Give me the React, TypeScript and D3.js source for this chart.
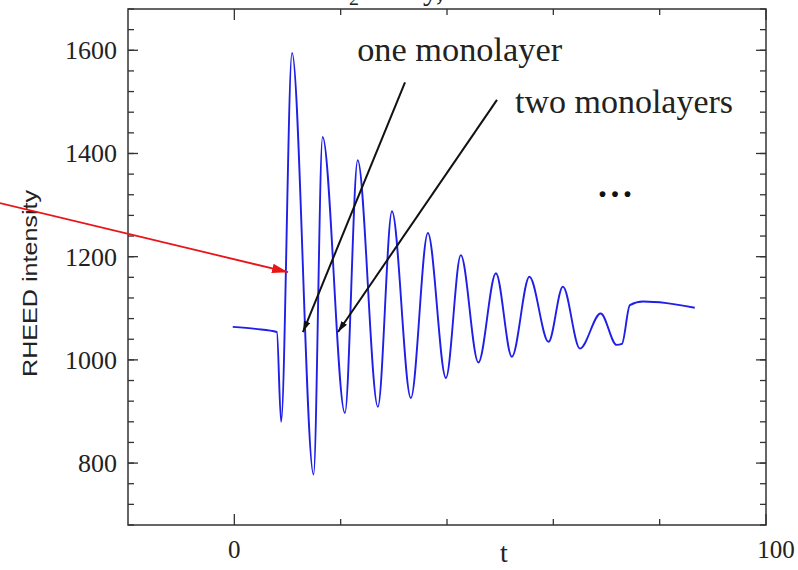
import React from "react";
import * as d3 from "d3";

// RHEED trace (peaks, troughs and plateau points)
const tValues = [-0.3, 4, 8.0, 8.8, 10.85, 14.9, 16.6, 20.8, 23.2, 27.0, 29.65, 33.2, 36.4, 39.8, 42.6, 45.9, 49.2, 52.2, 55.5, 59.1, 61.8, 65.0, 68.9, 71.9, 72.9, 74.4, 76.9, 81.3, 86.6];
const intensity = [1064, 1060, 1054, 880, 1595, 778, 1432, 897, 1387, 909, 1288, 926, 1246, 965, 1203, 995, 1168, 1006, 1161, 1035, 1142, 1022, 1090, 1029, 1031, 1106, 1113, 1110, 1101];

const yMajor = [800, 1000, 1200, 1400, 1600];
const yMinor = d3.range(680, 1681, 40);
const xMajor = [0, 100];
const xMinor = [20, 40, 60, 80];

// annotations, in data coordinates: [t0, v0, t1, v1]
const blackArrows = [
  [32.1, 1538, 12.9, 1054],
  [49.4, 1504, 19.5, 1054],
];
const redArrow = [-44.1, 1304, 10.1, 1170];
const labels = [
  { text: "one monolayer", t: 23.1, v: 1579, len: 205 },
  { text: "two monolayers", t: 52.8, v: 1478, len: 218 },
];

const W = 798, H = 570;
const left = 128, right = 766, top = 9, bottom = 525;

export default function App() {
  const x = d3.scaleLinear().domain([-20, 100]).range([left, right]);
  const y = d3.scaleLinear().domain([680, 1680]).range([bottom, top]);

  const pts = tValues.map((t, i) => [t, intensity[i]] as [number, number]);
  const line = d3.line<[number, number]>()
    .x(d => x(d[0]))
    .y(d => y(d[1]))
    .curve(d3.curveMonotoneX);

  const axisColor = "#333";
  const serif = "'Liberation Serif', 'Times New Roman', serif";

  return (
    <svg width={W} height={H} style={{ position: "absolute", left: 0, top: 0, background: "#fff" }}>
      <defs>
        <marker id="headBlack" viewBox="0 0 10 6" refX="10" refY="3" markerWidth="11" markerHeight="7" markerUnits="userSpaceOnUse" orient="auto">
          <path d="M0,0 L10,3 L0,6 Z" fill="#111" />
        </marker>
        <marker id="headRed" viewBox="0 0 10 6" refX="10" refY="3" markerWidth="16" markerHeight="10" markerUnits="userSpaceOnUse" orient="auto">
          <path d="M0,0 L10,3 L0,6 Z" fill="#e8161a" />
        </marker>
      </defs>

      {/* cut-off title fragments at the top */}
      <text x={349} y={5} fontFamily={serif} fontSize={20} fill="#222">2</text>
      <text x={423} y={0} fontFamily={serif} fontSize={30} fill="#222">y,</text>

      {/* frame */}
      <rect x={left} y={top} width={right - left} height={bottom - top} fill="none" stroke={axisColor} strokeWidth={1.5} />

      {/* y ticks both sides */}
      {yMinor.map(v => (
        <g key={"ym" + v}>
          <line x1={left} x2={left + 6} y1={y(v)} y2={y(v)} stroke={axisColor} strokeWidth={1.3} />
          <line x1={right} x2={right - 6} y1={y(v)} y2={y(v)} stroke={axisColor} strokeWidth={1.3} />
        </g>
      ))}
      {yMajor.map(v => (
        <g key={"yM" + v}>
          <line x1={left} x2={left + 10} y1={y(v)} y2={y(v)} stroke={axisColor} strokeWidth={1.3} />
          <line x1={right} x2={right - 10} y1={y(v)} y2={y(v)} stroke={axisColor} strokeWidth={1.3} />
          <text x={117} y={y(v)} dy="0.34em" textAnchor="end" fontFamily={serif} fontSize={26} fill="#222">{v}</text>
        </g>
      ))}

      {/* x ticks bottom and top */}
      {xMinor.map(t => (
        <g key={"xm" + t}>
          <line x1={x(t)} x2={x(t)} y1={bottom} y2={bottom - 6} stroke={axisColor} strokeWidth={1.3} />
          <line x1={x(t)} x2={x(t)} y1={top} y2={top + 6} stroke={axisColor} strokeWidth={1.3} />
        </g>
      ))}
      {xMajor.map(t => (
        <g key={"xM" + t}>
          <line x1={x(t)} x2={x(t)} y1={bottom} y2={bottom - 11} stroke={axisColor} strokeWidth={1.3} />
          <line x1={x(t)} x2={x(t)} y1={top} y2={top + 11} stroke={axisColor} strokeWidth={1.3} />
          <text x={x(t) + (t === 100 ? 10 : 0)} y={558} textAnchor="middle" fontFamily={serif} fontSize={25} fill="#222">{t}</text>
        </g>
      ))}

      {/* axis titles */}
      <text x={504} y={562} textAnchor="middle" fontFamily={serif} fontSize={28} fill="#222">t</text>
      <text transform={`translate(37,283.5) rotate(-90)`} textAnchor="middle" fontFamily="'Liberation Sans', Arial, sans-serif" fontSize={20} fill="#222" textLength={187} lengthAdjust="spacingAndGlyphs">RHEED intensity</text>

      {/* data */}
      <path d={line(pts) || ""} fill="none" stroke="#1f1fe8" strokeWidth={1.9} strokeLinejoin="round" />

      {/* annotations */}
      {blackArrows.map((a, i) => (
        <line key={"ba" + i} x1={x(a[0])} y1={y(a[1])} x2={x(a[2])} y2={y(a[3])} stroke="#111" strokeWidth={2} markerEnd="url(#headBlack)" />
      ))}
      <line x1={x(redArrow[0])} y1={y(redArrow[1])} x2={x(redArrow[2])} y2={y(redArrow[3])} stroke="#e8161a" strokeWidth={1.8} markerEnd="url(#headRed)" />
      {labels.map(l => (
        <text key={l.text} x={x(l.t)} y={y(l.v)} fontFamily={serif} fontSize={33} fill="#222" textLength={l.len} lengthAdjust="spacingAndGlyphs">{l.text}</text>
      ))}
      <text x={x(71.6)} y={y(1319.5)} dy="0.05em" textAnchor="middle" fontFamily={serif} fontWeight="bold" fontSize={36} fill="#111" textLength={34} lengthAdjust="spacing">...</text>
    </svg>
  );
}
